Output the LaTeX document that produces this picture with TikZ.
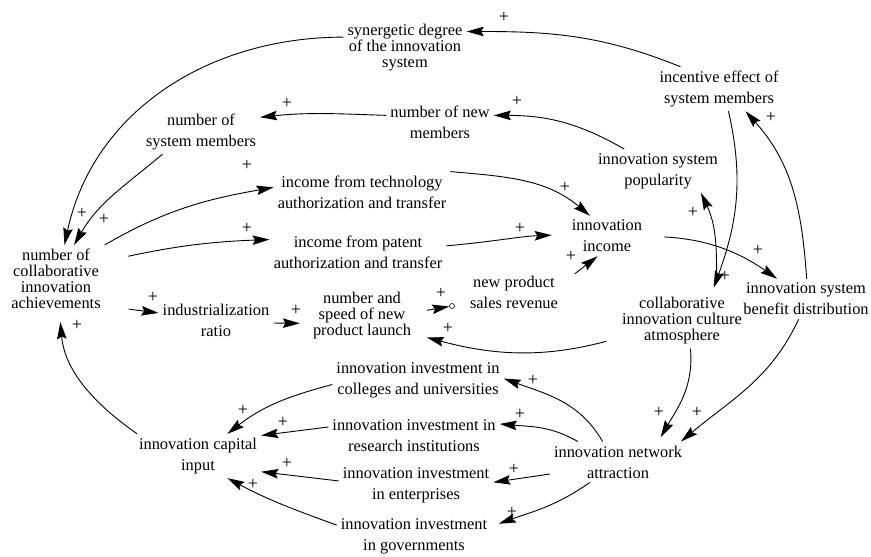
\documentclass[tikz,border=0pt]{standalone}
\usepackage{fontspec}
\setmainfont{Liberation Serif}
\usetikzlibrary{arrows.meta}

\begin{document}
\begin{tikzpicture}[x=1pt, y=1pt,
      var/.style  = {align=center, inner sep=4pt, font=\fontsize{16.4}{21}\selectfont},
      var3/.style = {var, font=\fontsize{16.4}{16}\selectfont},
      link/.style = {-{Stealth[length=17pt, width=9.5pt, inset=2.5pt]}, line width=0.9pt},
      pol/.style  = {inner sep=0pt, font=\fontsize{18}{18}\selectfont} ]

\useasboundingbox (0,0) rectangle (871,-557);

% variables
\node[var3] (syn)      at (405,-48)  {synergetic degree\\of the innovation\\system};
\node[var]  (incent)   at (719,-89)  {incentive effect of\\system members};
\node[var]  (newmem)   at (440,-122) {number of new\\members};
\node[var]  (sysmem)   at (201,-132) {number of\\system members};
\node[var]  (popul)    at (658,-171) {innovation system\\popularity};
\node[var]  (tech)     at (362,-192) {income from technology\\authorization and transfer};
\node[var]  (income)   at (607,-236) {innovation\\income};
\node[var]  (patent)   at (358,-252) {income from patent\\authorization and transfer};
\node[var3] (achieve)  at (56,-279)  {number of\\collaborative\\innovation\\achievements};
\node[var]  (sales)    at (514,-292) {new product\\sales revenue};
\node[var]  (benefit)  at (806,-299) {innovation system\\benefit distribution};
\node[var3] (culture)  at (682,-321) {collaborative\\innovation culture\\atmosphere};
\node[var]  (indust)   at (216,-320) {industrialization\\ratio};
\node[var3] (launch)   at (362,-316) {number and\\speed of new\\product launch};
\node[var]  (colleges) at (418,-380) {innovation investment in\\colleges and universities};
\node[var]  (research) at (414,-436) {innovation investment in\\research institutions};
\node[var]  (enterp)   at (416,-485) {innovation investment\\in enterprises};
\node[var]  (govern)   at (414,-536) {innovation investment\\in governments};
\node[var]  (capital)  at (198,-456) {innovation capital\\input};
\node[var]  (network)  at (618,-462) {innovation network\\attraction};
\node[draw, circle, inner sep=0pt, minimum size=5pt, line width=0.6pt] (hook) at (452,-306) {};

% causal links
\draw[link] (incent.150) to[out=158, in=0] (syn.15);
\draw[link] (syn.170) to[out=180, in=78] (achieve.76);
\draw[link] (sysmem.-150) to[out=-140, in=60] (achieve.62);
\draw[link] (newmem.173) to[out=178, in=6] (sysmem.14);
\draw[link] (popul.147) to[out=150, in=0] (newmem.7);
\draw[link] (achieve.35) to[out=30, in=190] (tech.177);
\draw[link, shorten <=24pt] (achieve.20) to[out=12, in=182] (patent.172);
\draw[link] (tech.13) to[out=-5, in=140] (income.130);
\draw[link, shorten >=16pt] (patent.4) to[out=5, in=182] (income.178);
\draw[link, shorten <=16pt] (sales.10) -- (income.-115);
\draw[link, shorten <=18pt] (income.east) to[out=-3, in=145] (benefit.145);
\draw[link] (benefit.88) to[out=94, in=-48] (incent.-40);
\draw[link, shorten >=6pt] (incent.-67) to[out=-77, in=70] (culture.43);
\draw[link, shorten <=12pt] (culture.38) to[out=92, in=-65] (popul.-27);
\draw[link, shorten <=12pt, shorten >=12pt] (culture.195) to[out=195, in=-15] (launch.-19);
\draw[link, shorten <=12pt] (launch.4) -- (hook);
\draw[link, shorten <=24pt] (achieve.-29) -- (indust.173);
\draw[link, shorten >=9pt] (indust.-3) -- (launch.188);
\draw[link, shorten >=9pt] (capital.160) to[out=145, in=-85] (achieve.-84);
\draw[link] (colleges.183) to[out=195, in=38] (capital.37);
\draw[link] (research.174) -- (capital.18);
\draw[link] (enterp.177) -- (capital.-14);
\draw[link] (govern.172) to[out=160, in=-28] (capital.-37);
\draw[link] (network.127) to[out=120, in=-20] (colleges.1);
\draw[link] (network.153) to[out=150, in=-5] (research.8);
\draw[link] (network.-170) -- (enterp.2);
\draw[link, shorten >=8pt] (network.-144) to[out=-145, in=20] (govern.7);
\draw[link, shorten >=5pt] (culture.-73) to[out=-85, in=60] (network.27);
\draw[link] (benefit.-110) to[out=-115, in=40] (network.18);

% polarities
\foreach \x/\y [count=\i] in {504/17, 82/213, 104/219, 287/103, 517/101, 247/165,
      247/228, 565/187, 520/228, 571/256, 758/250, 771/117, 725/276, 693/212,
      448/328, 441/293, 153/297, 296/310, 77/325, 243/410, 283/422, 287/463,
      253/484, 533/380, 520/414, 514/469, 512/512, 659/412, 697/412}
  \node[pol] (plus\i) at (\x,-\y) {+};
\end{tikzpicture}
\end{document}
